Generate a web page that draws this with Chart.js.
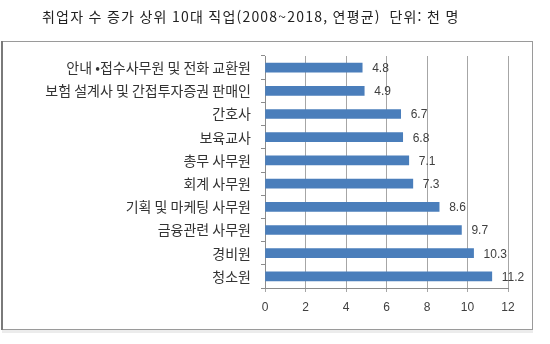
<!DOCTYPE html>
<html lang="ko">
<head>
<meta charset="utf-8">
<script src="https://cdn.jsdelivr.net/npm/chart.js@4/dist/chart.umd.min.js"></script>
<style>
  html, body { margin: 0; padding: 0; background: #fff; }
  #wrap { width: 550px; height: 344px; }
</style>
</head>
<body>
<div id="wrap"><canvas id="chart" width="550" height="344"></canvas></div>
<script>
// 직업별 연평균 취업자 증가 (단위: 천 명)
const chartTitle = '취업자 수 증가 상위 10대 직업(2008~2018, 연평균)  단위: 천 명';
const occupations = [
    '안내 •접수사무원 및 전화 교환원',
    '보험 설계사 및 간접투자증권 판매인',
    '간호사',
    '보육교사',
    '총무 사무원',
    '회계 사무원',
    '기획 및 마케팅 사무원',
    '금융관련 사무원',
    '경비원',
    '청소원'
];
const growth = [4.8, 4.9, 6.7, 6.8, 7.1, 7.3, 8.6, 9.7, 10.3, 11.2];
const xMin = 0;
const xMax = 12;
const xStep = 2;

const hangulFont = '"Noto Sans CJK KR", "Noto Sans", sans-serif';
const numFont = '"Liberation Sans", Arial, sans-serif';

// 바깥 테두리와 제목
const framePlugin = {
    id: 'frame',
    beforeDraw(chart) {
        const ctx = chart.ctx;
        ctx.save();
        ctx.fillStyle = '#fff';
        ctx.fillRect(0, 0, chart.width, chart.height);

        ctx.fillStyle = '#ececec';
        ctx.fillRect(2, 330, 531, 3);

        ctx.strokeStyle = '#9a9a9a';
        ctx.lineWidth = 1;
        ctx.strokeRect(1.5, 41.5, 531, 288);
        ctx.strokeStyle = '#7a7a7a';
        ctx.lineWidth = 2;
        ctx.beginPath();
        ctx.moveTo(2, 41);
        ctx.lineTo(2, 330);
        ctx.stroke();

        ctx.fillStyle = '#222';
        ctx.font = '14px ' + hangulFont;
        ctx.letterSpacing = '1.2px';
        ctx.textAlign = 'left';
        ctx.textBaseline = 'middle';
        ctx.fillText(chartTitle, 42, 17);
        ctx.restore();
        ctx.letterSpacing = '0px';
    },
    afterDraw(chart) {
        chart.ctx.letterSpacing = '0px';
    }
};

// 막대 끝에 값 표시 (그 뒤에 그려지는 항목 축은 자간을 넓힘)
const valueLabels = {
    id: 'valueLabels',
    afterDatasetsDraw(chart) {
        const ctx = chart.ctx;
        const meta = chart.getDatasetMeta(0);
        ctx.save();
        ctx.fillStyle = '#404040';
        ctx.font = '12px ' + numFont;
        ctx.textAlign = 'left';
        ctx.textBaseline = 'middle';
        meta.data.forEach((bar, i) => {
            ctx.fillText(growth[i].toString(), bar.x + 10, bar.y + 1);
        });
        ctx.restore();
        ctx.letterSpacing = '1px';
    }
};

new Chart(document.getElementById('chart'), {
    type: 'bar',
    data: {
        labels: occupations,
        datasets: [{
            data: growth,
            backgroundColor: '#4a7ebb',
            borderWidth: 0,
            barThickness: 9
        }]
    },
    options: {
        indexAxis: 'y',
        responsive: false,
        animation: false,
        layout: { padding: { left: 0, right: 42, top: 56, bottom: 26 } },
        plugins: {
            legend: { display: false },
            title: { display: false },
            tooltip: { enabled: false }
        },
        scales: {
            x: {
                min: xMin,
                max: xMax,
                ticks: {
                    stepSize: xStep,
                    color: '#404040',
                    font: { family: numFont, size: 12 },
                    padding: 8
                },
                grid: {
                    color: '#a6a6a6',
                    lineWidth: 1,
                    tickLength: 4,
                    drawTicks: true
                },
                border: { display: true, color: '#8c8c8c' },
                afterFit(scale) { scale.height = 30; }
            },
            y: {
                z: 1,
                ticks: {
                    color: '#333',
                    font: { family: hangulFont, size: 14 },
                    padding: 10
                },
                grid: {
                    offset: true,
                    drawOnChartArea: false,
                    drawTicks: true,
                    tickLength: 4,
                    color: '#8c8c8c'
                },
                border: { display: true, color: '#8c8c8c' },
                afterFit(scale) { scale.width = 265; }
            }
        }
    },
    plugins: [framePlugin, valueLabels]
});
</script>
</body>
</html>
